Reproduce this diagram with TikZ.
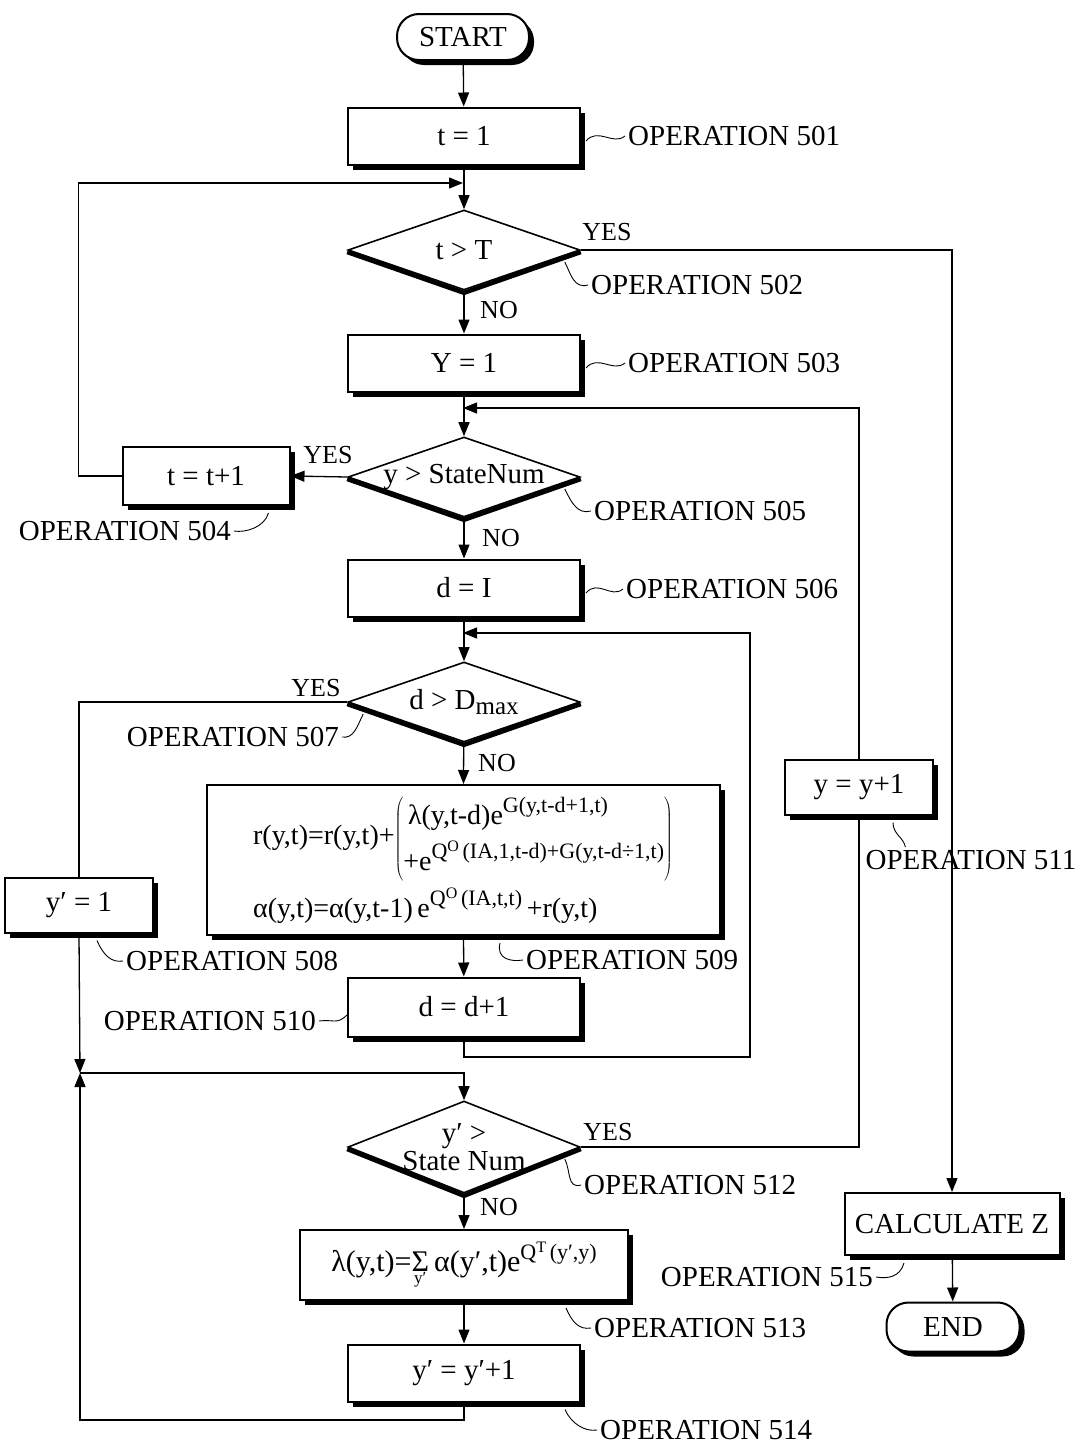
\documentclass[tikz,border=0pt]{standalone}
\usepackage{fontspec}
\setmainfont{Liberation Serif}
\usetikzlibrary{positioning,arrows.meta,shapes.geometric,shadows}
\tikzset{
  flowarrow/.style={-{Triangle[length=14pt,width=11pt]}, line width=1.3pt},
  flowline/.style={line width=1.3pt},
  procbox/.style={draw, fill=white, line width=2pt, minimum width=232pt, minimum height=57pt, inner sep=2pt, drop shadow={shadow xshift=5pt, shadow yshift=-5pt, opacity=1, fill=black}},
  termbox/.style={procbox, rounded corners=22pt, minimum width=132pt, minimum height=46pt},
  decision/.style={diamond, draw, fill=white, line width=1.6pt, minimum width=232pt, minimum height=80pt, inner sep=0pt},
  oplabel/.style={inner sep=0pt},
  answer/.style={font=\fontsize{26}{30}\selectfont, inner sep=0pt},
  lead/.style={line width=0.9pt},
  formula/.style={font=\fontsize{28}{33}\selectfont, align=left}
}
\newcommand{\cond}[1]{\makebox[0pt]{#1}}
\newcommand{\ap}{′}
\newcommand{\sups}[1]{\raisebox{12pt}{\fontsize{22}{22}\selectfont #1}}
\newcommand{\supo}[1]{\raisebox{7pt}{\fontsize{16}{16}\selectfont #1}}

\begin{document}
\begin{tikzpicture}[x=1pt, y=-1pt, every node/.style={font=\fontsize{29}{34}\selectfont}]
  \useasboundingbox (0,0) rectangle (1085,1448);
  % main column
  \node[termbox] (start) at (463,37) {START};
  \node[procbox] (b501) at (464,136) {t = 1};
  \node[decision] (d502) at (464,250) {\cond{t > T}};
  \node[procbox] (b503) at (464,363) {Y = 1};
  \node[decision] (d505) at (464,477) {\cond{\raisebox{4pt}{y > StateNum}}};
  \node[procbox, minimum width=167pt, minimum height=58pt] (b504) at (206,476) {t = t+1};
  \node[procbox] (b506) at (464,588) {d = I};
  \node[decision] (d507) at (464,702) {\cond{d > D\raisebox{-5pt}{\fontsize{25}{25}\selectfont max}}};
  \node[procbox, formula, minimum width=513pt, minimum height=150pt] (bF) at (463,860)
    {r(y,t)=r(y,t)+$\left(\mbox{\begin{tabular}{@{}l@{}}\,λ(y,t-d)e\sups{G(y,t-d+1,t)}\\[7pt]
      +e\sups{Q\supo{O}\,(IA,1,t-d)+G(y,t-d÷1,t)}\end{tabular}}\right)$\\[6pt]
     α(y,t)=α(y,t-1)\,e\sups{Q\supo{O}\,(IA,t,t)}\,+r(y,t)};
  \node[procbox, minimum width=148pt, minimum height=55pt] (b508) at (79,905) {y\ap{} = 1};
  \node[procbox, minimum height=59pt] (b510) at (464,1007) {d = d+1};
  \node[procbox, minimum width=148pt, minimum height=55pt] (b511) at (859,787) {y = y+1};
  \node[decision, minimum height=92pt] (d512) at (464,1147) {\cond{\shortstack{y\ap{} >\\State Num}}};
  \node[procbox, font=\fontsize{30}{34}\selectfont, minimum width=328pt, minimum height=70pt] (b513) at (464,1265)
    {λ(y,t)=$\mathop{\hbox{Σ}}\limits_{\hbox{\raisebox{-5pt}{\fontsize{17}{17}\selectfont y\ap}}}$\,α(y\ap,t)e\sups{Q\supo{T}\,(y\ap,y)}};
  \node[procbox] (b514) at (464,1373) {y\ap{} = y\ap+1};
  \node[procbox, minimum width=215pt, minimum height=62pt] (bZ) at (952,1224) {CALCULATE Z};
  \node[termbox, minimum width=133pt, minimum height=49pt] (end) at (953,1327) {END};

  % thick lower edges of the decisions
  \foreach \d in {d502,d505,d507,d512}
    \draw[line width=4.5pt, line join=round] ([yshift=-2pt]\d.west) -- ([yshift=-2pt]\d.south) -- ([yshift=-2pt]\d.east);

  % junctions
  \coordinate (j1) at (463,183);
  \coordinate (j2) at (463,408);
  \coordinate (j3) at (463,633);
  \coordinate (j4) at (80,1073);
  \coordinate (k3) at (750,1057);
  \coordinate (k4) at (80,1420);

  % connectors
  \draw[flowarrow] (start) -- (b501);
  \draw[flowarrow] (b501) -- (d502);
  \draw[flowarrow] (b504.west) -- ++(-43,0) |- (j1);
  \draw[flowarrow] (d502.east) -| (bZ.north);
  \draw[flowarrow] (d502) -- (b503);
  \draw[flowarrow] (b503) -- (d505);
  \draw[flowarrow] (b511.north) |- (j2);
  \draw[flowarrow] (d505.west) -- (b504.east);
  \draw[flowarrow] (d505) -- (b506);
  \draw[flowarrow] (b506) -- (d507);
  \draw[flowarrow] (b510.south) |- (k3) |- (j3);
  \draw[flowline] (d507.west) -| (b508.north);
  \draw[flowarrow] (d507) -- (bF);
  \draw[flowarrow] (bF) -- (b510);
  \draw[flowarrow] (b508.south) -- (j4);
  \draw[flowarrow] (b514.south) |- (k4) -- (j4);
  \draw[flowarrow] (j4) -| (d512.north);
  \draw[flowline] (d512.east) -| (b511.south);
  \draw[flowarrow] (d512) -- (b513);
  \draw[flowarrow] (b513) -- (b514);
  \draw[flowarrow] (bZ) -- (end);

  % YES / NO
  \node[answer] (yes502) at (607,232) {YES};
  \node[answer] (no502) at (499,310) {NO};
  \node[answer] (yes505) at (328,455) {YES};
  \node[answer] (no505) at (501,538) {NO};
  \node[answer] (yes507) at (316,688) {YES};
  \node[answer] (no507) at (497,763) {NO};
  \node[answer] (yes512) at (608,1132) {YES};
  \node[answer] (no512) at (499,1207) {NO};

  % operation labels
  \node[oplabel, anchor=west] (op501) at (628,136) {OPERATION 501};
  \node[oplabel, anchor=west] (op502) at (591,285) {OPERATION 502};
  \node[oplabel, anchor=west] (op503) at (628,363) {OPERATION 503};
  \node[oplabel, anchor=east] (op504) at (231,531) {OPERATION 504};
  \node[oplabel, anchor=west] (op505) at (594,511) {OPERATION 505};
  \node[oplabel, anchor=west] (op506) at (626,589) {OPERATION 506};
  \node[oplabel, anchor=east] (op507) at (339,737) {OPERATION 507};
  \node[oplabel, anchor=west] (op508) at (126,961) {OPERATION 508};
  \node[oplabel, anchor=west] (op509) at (526,960) {OPERATION 509};
  \node[oplabel, anchor=east] (op510) at (316,1021) {OPERATION 510};
  \node[oplabel] (op511) at (971,860) {OPERATION 511};
  \node[oplabel, anchor=west] (op512) at (584,1185) {OPERATION 512};
  \node[oplabel, anchor=west] (op513) at (594,1328) {OPERATION 513};
  \node[oplabel, anchor=west] (op514) at (600,1430) {OPERATION 514};
  \node[oplabel, anchor=east] (op515) at (873,1277) {OPERATION 515};

  % leaders
  \draw[lead] ([xshift=5pt,yshift=-5pt]b501.east) .. controls +(12,-14) and +(-12,10) .. ([xshift=-3pt]op501.west);
  \draw[lead] ([xshift=-16pt,yshift=-12pt]d502.east) .. controls +(6,12) and +(-14,4) .. ([xshift=-3pt]op502.west);
  \draw[lead] ([xshift=5pt,yshift=-5pt]b503.east) .. controls +(12,-14) and +(-12,10) .. ([xshift=-3pt]op503.west);
  \draw[lead] ([xshift=-22pt,yshift=-7pt]b504.south east) .. controls +(-4,14) and +(12,2) .. ([xshift=3pt]op504.east);
  \draw[lead] ([xshift=-16pt,yshift=-12pt]d505.east) .. controls +(6,12) and +(-14,4) .. ([xshift=-3pt]op505.west);
  \draw[lead] ([xshift=5pt,yshift=-5pt]b506.east) .. controls +(12,-14) and +(-12,10) .. ([xshift=-3pt]op506.west);
  \draw[lead] ([xshift=16pt,yshift=-12pt]d507.west) .. controls +(-6,12) and +(12,2) .. ([xshift=3pt]op507.east);
  \draw[lead] ([xshift=18pt,yshift=-7pt]b508.south) .. controls +(6,14) and +(-12,2) .. ([xshift=-3pt]op508.west);
  \draw[lead] ([xshift=37pt,yshift=-7pt]bF.south) .. controls +(-4,16) and +(-12,2) .. ([xshift=-3pt]op509.west);
  \draw[lead] ([xshift=3pt]op510.east) .. controls +(14,-2) and +(-10,10) .. ([yshift=-8pt]b510.west);
  \draw[lead] ([xshift=34pt,yshift=-7pt]b511.south) .. controls +(0,12) and +(-2,-10) .. ([xshift=40pt,yshift=3pt]op511.north west);
  \draw[lead] ([xshift=-16pt,yshift=-12pt]d512.east) .. controls +(6,12) and +(-14,4) .. ([xshift=-3pt]op512.west);
  \draw[lead] ([xshift=-63pt,yshift=-7pt]b513.south east) .. controls +(6,14) and +(-12,2) .. ([xshift=-3pt]op513.west);
  \draw[lead] ([xshift=-16pt,yshift=-7pt]b514.south east) .. controls +(6,14) and +(-12,2) .. ([xshift=-3pt]op514.west);
  \draw[lead] ([xshift=-48pt,yshift=-7pt]bZ.south) .. controls +(-4,14) and +(12,2) .. ([xshift=3pt]op515.east);
\end{tikzpicture}
\end{document}
